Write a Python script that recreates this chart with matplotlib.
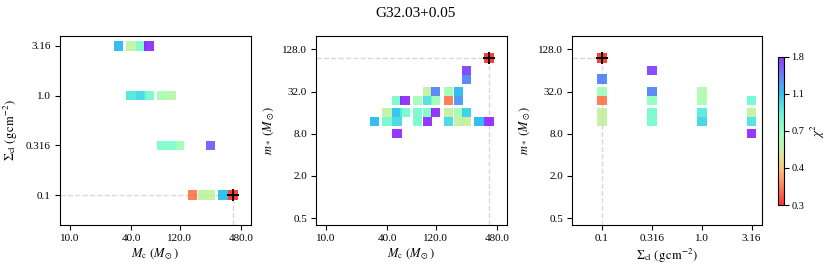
import numpy as np
import matplotlib
matplotlib.use("Agg")
import matplotlib.pyplot as plt
from matplotlib.colors import LogNorm
from matplotlib.ticker import FixedLocator, FixedFormatter, NullLocator

plt.rcParams['font.family'] = ['Liberation Serif', 'DejaVu Serif']
plt.rcParams['mathtext.fontset'] = 'stix'

TITLE = "G32.03+0.05"

# Panel 1: M_c vs Sigma_cl
p1_mc = [30, 40, 50, 60, 40, 50, 60, 80, 100, 80, 100, 120, 240, 160, 200, 240, 320]
p1_sig = [3.16, 3.16, 3.16, 3.16, 1.0, 1.0, 1.0, 1.0, 1.0, 0.316, 0.316, 0.316, 0.316, 0.1, 0.1, 0.1, 0.1]
p1_chi = [1.15, 0.56, 0.76, 1.8, 0.93, 1.0, 0.78, 0.63, 0.58, 0.76, 0.76, 0.66, 1.55, 0.33, 0.56, 0.56, 1.13]

# Panel 2: M_c vs m_*
p2_mc = [30, 40, 40, 50, 50, 50, 50, 60, 60, 80, 80, 80, 100, 100, 100, 100,
         120, 120, 120, 160, 160, 160, 160, 200, 200, 200, 200, 240, 240, 240, 240, 320, 400]
p2_ms = [12, 16, 12, 16, 12, 24, 8, 24, 16, 24, 16, 12, 32, 24, 16, 12,
         32, 24, 16, 32, 24, 16, 12, 32, 24, 16, 12, 64, 48, 16, 12, 12, 12]
p2_chi = [1.15, 0.56, 0.8, 1.1, 1.0, 0.78, 1.8, 1.8, 0.8, 0.65, 0.78, 0.78, 0.56, 0.95, 0.76, 1.8,
          1.38, 0.66, 1.8, 0.65, 0.33, 0.55, 1.0, 1.15, 1.3, 0.65, 0.55, 1.7, 1.38, 1.05, 0.55, 1.15, 1.8]

# Panel 3: Sigma_cl vs m_*
p3_sig = [0.1, 0.1, 0.1, 0.1, 0.1, 0.316, 0.316, 0.316, 0.316, 0.316,
          1.0, 1.0, 1.0, 1.0, 3.16, 3.16, 3.16, 3.16]
p3_ms = [48, 32, 24, 16, 12, 64, 32, 24, 16, 12,
         32, 24, 16, 12, 24, 16, 12, 8]
p3_chi = [1.38, 0.65, 0.33, 0.55, 0.55, 1.7, 1.38, 0.7, 0.78, 0.78,
          0.6, 0.62, 0.9, 1.02, 0.8, 0.56, 0.95, 1.8]

# Best fit model
best_mc = 400
best_sig = 0.1
best_ms = 96
best_chi = 0.27

MC_TICKS = [10.0, 40.0, 120.0, 480.0]
SIG_TICKS = [0.1, 0.316, 1.0, 3.16]
MS_TICKS = [0.5, 2.0, 8.0, 32.0, 128.0]
CBAR_TICK_LABELS = ['0.3', '0.4', '0.7', '1.1', '1.8']

CHI_MIN, CHI_MAX = 0.26, 1.84
MC_LIM = (8, 600)
SIG_LIM = (0.05, 4.0)
MS_LIM = (0.4, 200)

fig = plt.figure(figsize=(8.31, 2.71), dpi=100)
axes = [fig.add_axes([0.0722, 0.1697, 0.2298, 0.6985]),
        fig.add_axes([0.3803, 0.1697, 0.2295, 0.6985]),
        fig.add_axes([0.6883, 0.1697, 0.2286, 0.6985])]
cax = fig.add_axes([0.9359, 0.2435, 0.0075, 0.5473])

norm = LogNorm(vmin=CHI_MIN, vmax=CHI_MAX)
cmap = plt.get_cmap('rainbow_r')
ms2 = 46
lab_fs = 9
tick_fs = 8
dash_kw = dict(color='#d9d9d9', ls='--', lw=1.0, zorder=1)


def setup(ax, xt, yt, xlim, ylim, xl, yl):
    ax.set_xscale('log')
    ax.set_yscale('log')
    ax.set_xlim(*xlim)
    ax.set_ylim(*ylim)
    ax.xaxis.set_major_locator(FixedLocator(xt))
    ax.xaxis.set_major_formatter(FixedFormatter([str(v) for v in xt]))
    ax.yaxis.set_major_locator(FixedLocator(yt))
    ax.yaxis.set_major_formatter(FixedFormatter([str(v) for v in yt]))
    ax.xaxis.set_minor_locator(NullLocator())
    ax.yaxis.set_minor_locator(NullLocator())
    ax.tick_params(labelsize=tick_fs, pad=3)
    ax.set_xlabel(xl, fontsize=lab_fs, labelpad=3)
    ax.set_ylabel(yl, fontsize=lab_fs, labelpad=4)


def panel(ax, x, y, c, bx, by, xlim, ylim):
    ax.plot([xlim[0], bx], [by, by], **dash_kw)
    ax.plot([bx, bx], [ylim[0], by], **dash_kw)
    sc = ax.scatter(x, y, c=c, cmap=cmap, norm=norm, marker='s', s=ms2,
                    alpha=0.8, edgecolors='none', zorder=2)
    ax.scatter([bx], [by], c=[best_chi], cmap=cmap, norm=norm, marker='s', s=ms2,
               alpha=0.8, edgecolors='none', zorder=3)
    ax.plot([bx], [by], marker='+', color='k', ms=9, mew=1.4, zorder=4)
    return sc


mc_lab = r'$M_{\rm c}\ (M_\odot)$'
sig_lab = r'$\Sigma_{\rm cl}\ ({\rm g\,cm^{-2}})$'
ms_lab = r'$m_*\ (M_\odot)$'

panel(axes[0], p1_mc, p1_sig, p1_chi, best_mc, best_sig, MC_LIM, SIG_LIM)
setup(axes[0], MC_TICKS, SIG_TICKS, MC_LIM, SIG_LIM, mc_lab, sig_lab)

panel(axes[1], p2_mc, p2_ms, p2_chi, best_mc, best_ms, MC_LIM, MS_LIM)
setup(axes[1], MC_TICKS, MS_TICKS, MC_LIM, MS_LIM, mc_lab, ms_lab)

sc = panel(axes[2], p3_sig, p3_ms, p3_chi, best_sig, best_ms, SIG_LIM, MS_LIM)
setup(axes[2], SIG_TICKS, MS_TICKS, SIG_LIM, MS_LIM, sig_lab, ms_lab)

cb = fig.colorbar(sc, cax=cax)
cb.solids.set_alpha(0.8)
cb.ax.yaxis.set_minor_locator(NullLocator())
cb.set_ticks(np.geomspace(CHI_MIN, CHI_MAX, len(CBAR_TICK_LABELS)))
cb.set_ticklabels(CBAR_TICK_LABELS)
cb.ax.tick_params(labelsize=7.5, pad=2)
cb.ax.minorticks_off()
cb.set_label(r'$\chi^2$', fontsize=lab_fs)
cb.ax.yaxis.set_label_coords(5.0, 0.5)

fig.suptitle(TITLE, fontsize=11, y=0.975)

fig.savefig('out.png', dpi=100)
